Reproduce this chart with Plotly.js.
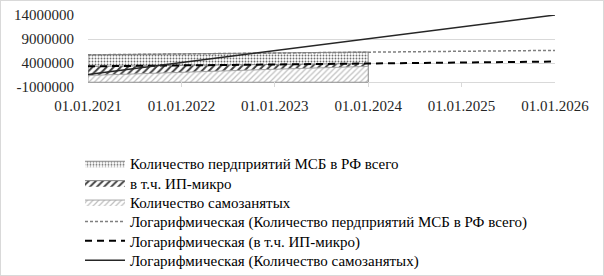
<!DOCTYPE html>
<html><head><meta charset="utf-8">
<script src="https://cdn.plot.ly/plotly-3.0.1.min.js"></script>
<style>
html,body{margin:0;padding:0;background:#fff;}
#wrap{position:relative;width:604px;height:276px;}
#chart{width:604px;height:276px;}
#frame{position:absolute;left:0;top:0;width:602px;height:274px;border:1px solid #d9d9d9;pointer-events:none;}
</style></head><body>
<div id="wrap"><div id="chart"></div><div id="frame"></div></div>
<script>
// categories
const dates = ['01.01.2021','01.01.2022','01.01.2023','01.01.2024','01.01.2025','01.01.2026'];
const dataDates = ['01.01.2021','01.01.2022','01.01.2023','01.01.2024'];
// series values
const msbTotal = [5700000, 5900000, 6000000, 6300000];
const ipMicro = [3300000, 3500000, 3700000, 3900000];
const selfEmployed = [1400000, 2100000, 2700000, 3300000];
// trendlines as drawn
const trendMsb = [5700000, 5880000, 6060000, 6250000, 6440000, 6630000];
const trendIp = [3300000, 3500000, 3700000, 3900000, 4100000, 4300000];
const trendSelf = [1600000, 4100000, 6600000, 9000000, 11500000, 14000000];
// y ticks
const yTicks = [-1000000, 4000000, 9000000, 14000000];
// names
const seriesNames = ['Количество пердприятий МСБ в РФ всего', 'в т.ч. ИП-микро', 'Количество самозанятых'];
const trendNames = ['Логарифмическая (Количество пердприятий МСБ в РФ всего)', 'Логарифмическая (в т.ч. ИП-микро)', 'Логарифмическая (Количество самозанятых)'];

function closedX(xs){ return xs.concat([xs[xs.length-1], xs[0], xs[0]]); }
function closedY(ys){ return ys.concat([0, 0, ys[0]]); }

const traces = [
  {type:'scatter', mode:'lines', name:seriesNames[0], x:closedX(dataDates), y:closedY(msbTotal), fill:'toself',
   fillcolor:'#ffffff', fillpattern:{shape:'.', fgcolor:'#6e6e6e', bgcolor:'#ffffff', size:3, solidity:0.3},
   line:{color:'#8c8c8c', width:1}, hoverinfo:'skip'},
  {type:'scatter', mode:'lines', name:seriesNames[1], x:closedX(dataDates), y:closedY(ipMicro), fill:'toself',
   fillcolor:'#ffffff', fillpattern:{shape:'/', fgcolor:'#404040', bgcolor:'#ffffff', size:5, solidity:0.4},
   line:{color:'#808080', width:1}, hoverinfo:'skip'},
  {type:'scatter', mode:'lines', name:seriesNames[2], x:closedX(dataDates), y:closedY(selfEmployed), fill:'toself',
   fillcolor:'#ffffff', fillpattern:{shape:'/', fgcolor:'#c0c0c0', bgcolor:'#ffffff', size:4, solidity:0.3},
   line:{color:'#a6a6a6', width:1}, hoverinfo:'skip'},
  {type:'scatter', mode:'lines', name:trendNames[0], x:dates, y:trendMsb,
   line:{color:'#7f7f7f', width:1.5, dash:'3px,2px'}, hoverinfo:'skip'},
  {type:'scatter', mode:'lines', name:trendNames[1], x:dates, y:trendIp,
   line:{color:'#000000', width:2, dash:'7px,5px'}, hoverinfo:'skip'},
  {type:'scatter', mode:'lines', name:trendNames[2], x:dates, y:trendSelf,
   line:{color:'#262626', width:1.5}, hoverinfo:'skip'}
];

const FAMILY = 'Liberation Serif, Times New Roman, serif';
const font = {family:FAMILY, size:15, color:'#262626'};

const layout = {
  width:604, height:276,
  margin:{l:88, r:49, t:15, b:189, pad:0, autoexpand:false},
  paper_bgcolor:'#ffffff', plot_bgcolor:'#ffffff',
  font: font,
  showlegend:true,
  legend:{orientation:'v', xref:'container', yref:'container', x:80/604, y:1-147/276, xanchor:'left', yanchor:'top',
          font:{family:FAMILY, size:15, color:'#000000'}, itemwidth:40, bgcolor:'rgba(0,0,0,0)', tracegroupgap:0, traceorder:'normal'},
  xaxis:{type:'category', categoryorder:'array', categoryarray:dates, range:[0,5], showgrid:false, zeroline:false,
         showline:false, ticks:'inside', ticklen:5, tickcolor:'#d9d9d9', tickfont:font, ticklabelstandoff:8,
         automargin:false, fixedrange:true},
  yaxis:{range:[-1000000,14000000], tickmode:'array', tickvals:yTicks, ticktext:yTicks.map(v=>String(v)),
         showgrid:true, gridcolor:'#d9d9d9', gridwidth:1, zeroline:true, zerolinecolor:'#d9d9d9', zerolinewidth:1,
         showline:false, ticks:'', tickfont:font, ticklabelstandoff:13, automargin:false, fixedrange:true}
};

const ROW_STEP = 19.4;
function tightenLegend(){
  const items = document.querySelectorAll('#chart .legend .traces');
  if(!items.length) return;
  const m = /translate\(\s*([-\d.]+)[ ,]+([-\d.]+)\s*\)/.exec(items[0].getAttribute('transform') || '');
  if(!m) return;
  const x0 = parseFloat(m[1]), y0 = parseFloat(m[2]);
  items.forEach((el, i) => el.setAttribute('transform', 'translate(' + x0 + ',' + (y0 + i*ROW_STEP) + ')'));
}

Plotly.newPlot('chart', traces, layout, {staticPlot:true, displayModeBar:false}).then(tightenLegend);
</script>
</body></html>
